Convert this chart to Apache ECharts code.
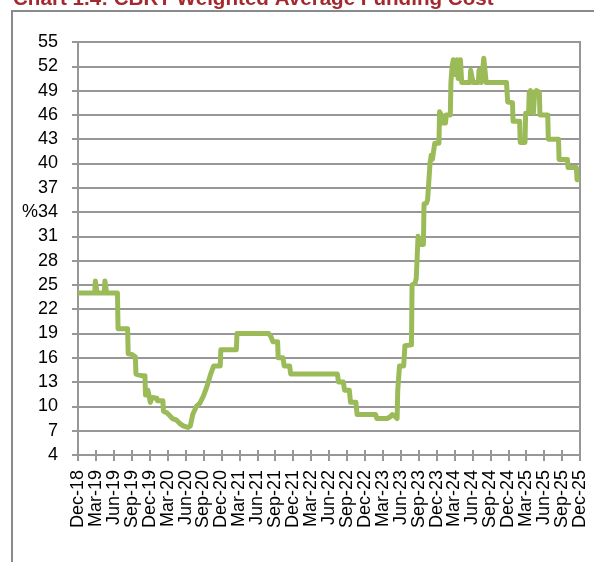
<!DOCTYPE html>
<html lang="en">
<head>
	<meta charset="UTF-8">
	<title>CBRT Weighted Average Funding Cost</title>
	<style>
		html, body { margin: 0; padding: 0; background: #fff; }
		#main { width: 594px; height: 562px; }
	</style>
</head>
<body>
	<div id="main"></div>
</body>
<script type="text/javascript" src="https://cdn.jsdelivr.net/npm/echarts@6/dist/echarts.min.js"></script>
<script type="text/javascript">
	// quarter labels on the x axis (one every 3 months from Dec-18)
	var quarterLabels = ['Dec-18','Mar-19','Jun-19','Sep-19','Dec-19','Mar-20','Jun-20','Sep-20',
		'Dec-20','Mar-21','Jun-21','Sep-21','Dec-21','Mar-22','Jun-22','Sep-22','Dec-22','Mar-23',
		'Jun-23','Sep-23','Dec-23','Mar-24','Jun-24','Sep-24','Dec-24','Mar-25','Jun-25','Sep-25','Dec-25'];

	// months elapsed since Dec-18
	var months = [0,2.8,2.9,3.1,3.2,4.4,4.5,4.7,4.8,6.6,6.7,8.3,8.4,9.1,9.6,9.7,10.6,11.2,11.3,11.6,
		11.7,12.0,12.1,12.3,12.4,13.2,13.3,14.2,14.3,14.9,15.2,15.8,16.5,17.0,17.6,18.4,18.8,19.2,19.8,20.4,
		21.0,21.6,22.2,22.7,23.8,23.9,26.5,26.6,31.9,32.3,32.6,33.4,33.5,34.3,34.5,35.4,35.6,43.4,43.6,44.4,
		44.6,45.4,45.6,46.5,46.7,49.8,50.0,51.7,52.2,52.6,53.0,53.4,53.5,53.8,54.5,54.7,55.8,55.9,56.4,56.6,
		56.8,56.9,57.1,57.8,57.9,58.3,58.5,58.8,58.9,59.1,59.3,59.6,59.7,60.4,60.5,60.8,61.0,61.5,61.6,62.3,
		62.4,62.6,62.8,63.0,63.2,63.4,63.6,63.8,64.0,64.2,65.6,65.7,66.0,66.1,67.0,67.1,67.4,67.5,67.8,67.9,
		68.2,68.3,71.7,71.9,72.7,72.8,73.9,74.0,74.8,74.9,75.4,75.5,75.7,76.0,76.2,76.4,76.7,77.2,77.3,78.6,
		78.7,80.4,80.5,81.9,82.0,83.4,83.5,84];

	// weighted average funding cost, %
	var fundingCost = [24,24,25.5,25.5,24,24,25.5,25.5,24,24,19.6,19.6,16.5,16.4,16.1,14,13.8,13.8,11.4,11.5,
		12,12,10.5,10.5,11.1,11,10.7,10.7,9.4,9.2,9.0,8.5,8.3,7.9,7.6,7.4,7.6,9.0,10,10.4,
		11.3,12.5,14,15,15,17,17,19,19,18.6,18,18,16,16,15,15,14,14,13,13,
		12,12,10.5,10.5,9,9,8.5,8.5,8.7,9.0,8.8,8.5,12,15,15,17.5,17.6,25,25.2,25.8,
		25.8,31,30,30,35,35.1,35.5,35.5,40,41,40.5,40.5,42.5,42.5,46.4,46,45,45,46,46,
		50,52,52.8,51,52.5,52.8,50.5,52,52.8,50,50,51.5,51.5,50,50,51.5,51.5,50,50,53,
		53,50,50,47.6,47.5,45.2,45.2,42.6,42.6,46.2,46.2,48.7,49,48.5,46.2,48.5,49,48.8,46,46,
		43,43,40.5,40.5,39.5,39.5,38,38];

	var yTicks = { min: 4, max: 55, step: 3 };

	var seriesData = [];
	for (var i = 0; i < months.length; i++) {
		seriesData.push([months[i], fundingCost[i]]);
	}

	var gridGrey = '#979797';
	var labelFont = '"Liberation Sans", Arial, sans-serif';

	var myChart = echarts.init(document.getElementById('main'));
	var option = {
		animation: false,
		backgroundColor: '#fff',
		grid: {
			left: 78, right: 14, top: 42, bottom: 107,
			show: true, borderColor: gridGrey, borderWidth: 2
		},
		graphic: [
			{
				type: 'rect', z: -1,
				shape: { x: 12, y: 11, width: 640, height: 640 },
				style: { fill: null, stroke: '#8a8a8a', lineWidth: 2 }
			},
			{
				type: 'text', x: 13, y: -11,
				style: {
					text: 'Chart 1.4: CBRT Weighted Average Funding Cost',
					fill: '#a3292e',
					font: 'bold 20.6px ' + labelFont
				}
			}
		],
		xAxis: [{
			type: 'value',
			min: 0, max: 84, interval: 3,
			axisLine: { show: true, lineStyle: { color: gridGrey, width: 2 } },
			axisTick: { show: true, length: 6, lineStyle: { color: gridGrey, width: 2 } },
			splitLine: { show: false },
			axisLabel: {
				rotate: 90, margin: 15,
				color: '#000', fontSize: 18, fontFamily: labelFont,
				formatter: function (v) { return quarterLabels[Math.round(v / 3)]; }
			}
		}, {
			type: 'value', position: 'bottom',
			min: 0, max: 84, interval: 3,
			axisLine: { show: false },
			axisTick: { show: true, inside: true, length: 5, lineStyle: { color: gridGrey, width: 2 } },
			splitLine: { show: false },
			axisLabel: { show: false }
		}],
		yAxis: {
			type: 'value',
			min: yTicks.min, max: yTicks.max, interval: yTicks.step,
			axisLine: { show: true, lineStyle: { color: gridGrey, width: 2 } },
			axisTick: { show: true, length: 6, lineStyle: { color: gridGrey, width: 2 } },
			splitLine: { show: true, lineStyle: { color: gridGrey, width: 2 } },
			axisLabel: {
				margin: 20,
				color: '#000', fontSize: 18, fontFamily: labelFont,
				formatter: function (v) { return v === 34 ? '%34' : String(v); }
			}
		},
		series: [{
			name: 'Funding cost',
			type: 'line',
			xAxisIndex: 0,
			data: seriesData,
			symbol: 'none',
			smooth: false,
			lineStyle: { color: '#9bbb59', width: 5, join: 'round' }
		}]
	};
	myChart.setOption(option);
</script>
</html>
